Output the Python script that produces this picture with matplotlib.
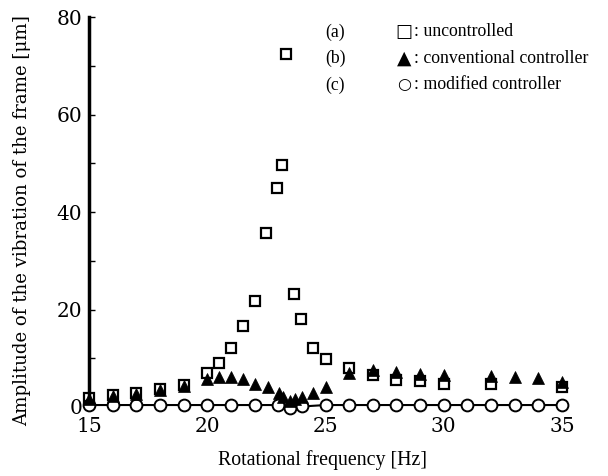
import matplotlib
matplotlib.use("Agg")
import matplotlib.pyplot as plt

# (a) uncontrolled
freq_a = [15, 16, 17, 18, 19, 20, 20.5, 21, 21.5, 22, 22.5, 22.95, 23.15, 23.35,
          23.65, 23.95, 24.45, 25, 26, 27, 28, 29, 30, 32, 35]
amp_a = [1.9, 2.4, 2.9, 3.7, 4.6, 7.0, 9.1, 12.2, 16.6, 21.8, 35.6, 45.0, 49.7, 72.5,
         23.2, 18.0, 12.2, 9.8, 7.9, 6.5, 5.6, 5.3, 4.8, 4.7, 4.0]

# (b) conventional controller
freq_b = [15, 16, 17, 18, 19, 20, 20.5, 21, 21.5, 22, 22.55, 23.05, 23.2, 23.5, 23.7,
          24, 24.45, 25, 26, 27, 28, 29, 30, 32, 33, 34, 35]
amp_b = [1.7, 2.2, 2.6, 3.5, 4.4, 5.7, 6.2, 6.2, 5.8, 4.8, 4.0, 2.8, 2.1, 1.3, 1.6,
         2.1, 2.9, 4.1, 6.9, 7.6, 7.2, 6.7, 6.5, 6.3, 6.2, 5.9, 5.2]

# (c) modified controller
freq_c = [15, 16, 17, 18, 19, 20, 21, 22, 23, 23.5, 24, 25, 26, 27, 28, 29, 30,
          31, 32, 33, 34, 35]
amp_c = [0.4, 0.4, 0.4, 0.4, 0.4, 0.4, 0.4, 0.4, 0.4, -0.2, 0.1, 0.4, 0.4, 0.4,
         0.4, 0.4, 0.4, 0.4, 0.4, 0.4, 0.4, 0.4]

xticks = [15, 20, 25, 30, 35]
yticks = [0, 20, 40, 60, 80]
legend_tags = ["(a)", "(b)", "(c)"]
legend_glyphs = ["\u25a1", "\u25b2", "\u25cb"]
legend_glyph_sizes = [13, 13.5, 11.5]
legend_names = [": uncontrolled", ": conventional controller", ": modified controller"]

fig = plt.figure(figsize=(6.08, 4.76), dpi=100)
ax = fig.add_axes([0.1464, 0.145, 0.778, 0.819])

ax.plot(freq_c, amp_c, color="black", lw=1.5, marker="o", ms=8.5,
        mfc="white", mec="black", mew=1.4, clip_on=False, zorder=3)
ax.plot(freq_a, amp_a, ls="none", marker="s", ms=7.5, mfc="none",
        mec="black", mew=1.6, clip_on=False, zorder=4)
ax.plot(freq_b, amp_b, ls="none", marker="^", ms=8.5, mfc="black",
        mec="black", mew=0.5, clip_on=False, zorder=5)

ax.set_xlim(15, 35)
ax.set_ylim(0, 80)
for s in ["top", "right", "bottom"]:
    ax.spines[s].set_visible(False)
ax.spines["left"].set_linewidth(2.5)

ax.set_xticks(xticks)
ax.set_yticks(yticks)
ax.set_yticks(range(0, 81, 10), minor=True)
ax.tick_params(axis="y", which="both", direction="in", length=4, width=1, pad=5,
               labelsize=14.5)
ax.tick_params(axis="x", length=0, pad=7, labelsize=14.5)
for lab in ax.get_xticklabels() + ax.get_yticklabels():
    lab.set_family("DejaVu Serif")

ax.set_xlabel("Rotational frequency [Hz]", family="Liberation Serif",
              fontsize=14.3, va="center")
ax.xaxis.set_label_coords(0.4926, -0.136)
ax.set_ylabel("Amplitude of the vibration of the frame [\u03bcm]",
              family="DejaVu Serif", fontsize=13.1, va="center")
ax.yaxis.set_label_coords(-0.142, 0.477)

for i in range(3):
    anchor = (0.499, 0.962 - i * 0.068)
    ax.annotate(legend_tags[i], xy=anchor, xycoords="axes fraction",
                family="Liberation Serif", fontsize=12.8, ha="left", va="center")
    ax.annotate(legend_glyphs[i], xy=anchor, xycoords="axes fraction",
                xytext=(57, 0), textcoords="offset points",
                family="DejaVu Sans", fontsize=legend_glyph_sizes[i],
                ha="center", va="center")
    ax.annotate(legend_names[i], xy=anchor, xycoords="axes fraction",
                xytext=(64, 0), textcoords="offset points",
                family="Liberation Serif", fontsize=12.8, ha="left", va="center")

fig.savefig("out.png", dpi=100)
